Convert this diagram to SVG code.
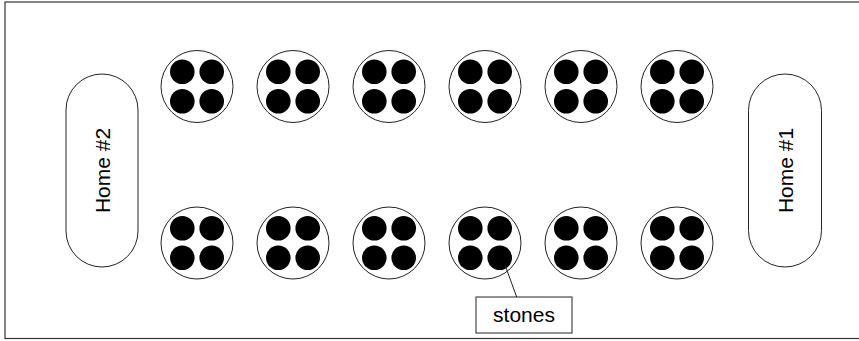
<svg xmlns="http://www.w3.org/2000/svg" width="859" height="341" viewBox="0 0 859 341">
<style>
.frame{fill:#fff;stroke:#333;stroke-width:1.2}
.pit{fill:#fff;stroke:#222;stroke-width:1}
.stone{fill:#000}
.home{fill:#fff;stroke:#222;stroke-width:1}
.lbl{font-family:"Liberation Sans",Arial,sans-serif;font-size:21px;fill:#000;text-anchor:middle}
.lead{stroke:#222;stroke-width:1;fill:none}
</style>
<defs>
<g id="pitShape">
<circle class="pit" cx="0" cy="0" r="36"/>
<circle class="stone" cx="-14.7" cy="-14.7" r="12.3"/>
<circle class="stone" cx="14.7" cy="-14.7" r="12.3"/>
<circle class="stone" cx="-14.7" cy="14.7" r="12.3"/>
<circle class="stone" cx="14.7" cy="14.7" r="12.3"/>
</g>
</defs>
<rect class="frame" x="5" y="2" width="860" height="336.5"/>
<g id="home2"><rect class="home" x="66" y="74" width="72" height="193" rx="36"/><text class="lbl" transform="translate(109.5,170.5) rotate(-90)">Home #2</text></g>
<g id="home1"><rect class="home" x="748.5" y="74" width="73" height="193" rx="36.5"/><text class="lbl" transform="translate(792.5,170.5) rotate(-90)">Home #1</text></g>
<g id="pit-t1"><use href="#pitShape" x="197" y="86.5"/></g>
<g id="pit-t2"><use href="#pitShape" x="293" y="86.5"/></g>
<g id="pit-t3"><use href="#pitShape" x="389" y="86.5"/></g>
<g id="pit-t4"><use href="#pitShape" x="485" y="86.5"/></g>
<g id="pit-t5"><use href="#pitShape" x="581" y="86.5"/></g>
<g id="pit-t6"><use href="#pitShape" x="677" y="86.5"/></g>
<g id="pit-b1"><use href="#pitShape" x="197" y="243"/></g>
<g id="pit-b2"><use href="#pitShape" x="293" y="243"/></g>
<g id="pit-b3"><use href="#pitShape" x="389" y="243"/></g>
<g id="pit-b4"><use href="#pitShape" x="485" y="243"/></g>
<g id="pit-b5"><use href="#pitShape" x="581" y="243"/></g>
<g id="pit-b6"><use href="#pitShape" x="677" y="243"/></g>
<g id="connectors"><line class="lead" x1="505" y1="265" x2="516.7" y2="297"/></g>
<g id="stones-label"><rect x="476" y="297" width="96" height="36" fill="#fff" stroke="#222" stroke-width="1"/><text class="lbl" x="524" y="322">stones</text></g>
</svg>
